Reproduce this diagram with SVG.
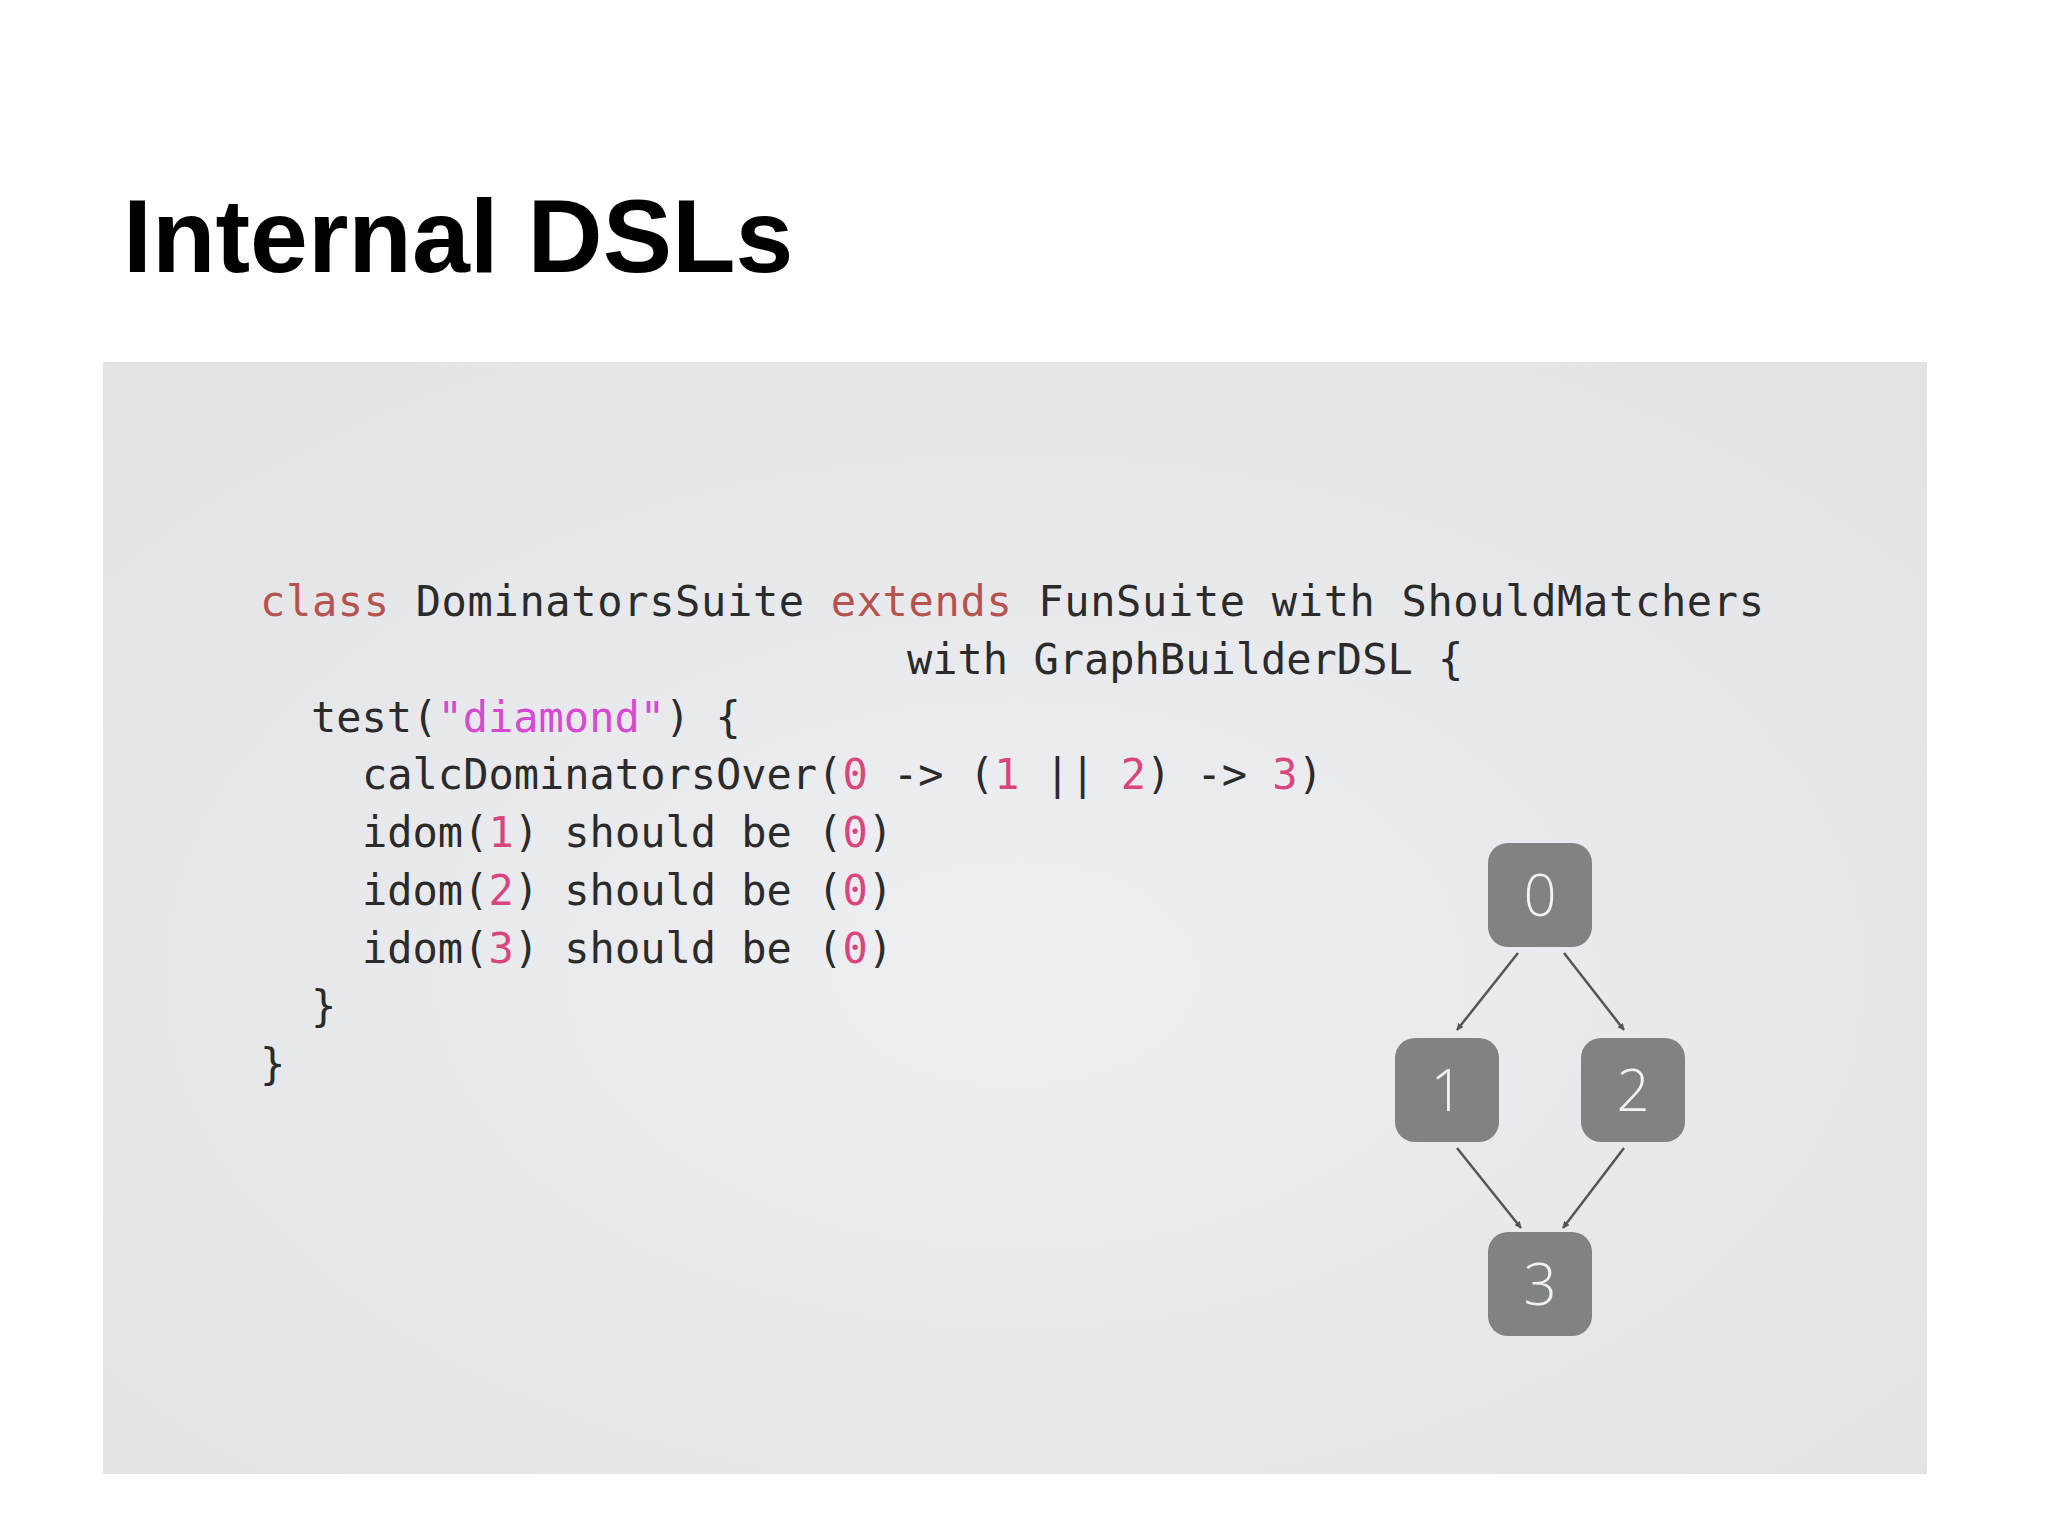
<svg xmlns="http://www.w3.org/2000/svg" width="2048" height="1536" viewBox="0 0 2048 1536">
<defs>
<radialGradient id="bg" cx="0.5" cy="0.55" r="0.7">
<stop offset="0" stop-color="#eeeff2"/><stop offset="1" stop-color="#e2e3e7"/>
</radialGradient>
<marker id="ah" viewBox="0 0 10 10" refX="9" refY="5" markerWidth="7" markerHeight="7" orient="auto" markerUnits="userSpaceOnUse">
<path d="M0,0 L10,5 L0,10 z" fill="#555"/>
</marker>
<style>
.code{font-family:"DejaVu Sans Mono","Liberation Mono",monospace;font-size:42px;fill:#2b2b2b}
.kw{fill:#b5544f}.str{fill:#d54ad0}.num{fill:#d9457d}
.node rect{fill:#7f8482}
.node text{font-family:"Open Sans","DejaVu Sans",sans-serif;font-weight:300;font-size:58px;fill:#f2f2f2;text-anchor:middle}
.edge{stroke:#555;stroke-width:2.5;fill:none;marker-end:url(#ah)}
</style>
</defs>
<rect width="2048" height="1536" fill="#fff"/>
<text x="123" y="272" font-family="Liberation Sans,Arial,sans-serif" font-weight="bold" font-size="104" fill="#000">Internal DSLs</text>
<rect x="103" y="362" width="1824" height="1112" fill="url(#bg)"/>
<g id="code" class="code">
<text x="260" y="616" textLength="1504"><tspan class="kw">class</tspan> DominatorsSuite <tspan class="kw">extends</tspan> FunSuite with ShouldMatchers</text>
<text x="907" y="674">with GraphBuilderDSL {</text>
<text x="311" y="732">test(<tspan class="str">"diamond"</tspan>) {</text>
<text x="362" y="789">calcDominatorsOver(<tspan class="num">0</tspan> -&gt; (<tspan class="num">1</tspan> || <tspan class="num">2</tspan>) -&gt; <tspan class="num">3</tspan>)</text>
<text x="362" y="847">idom(<tspan class="num">1</tspan>) should be (<tspan class="num">0</tspan>)</text>
<text x="362" y="905">idom(<tspan class="num">2</tspan>) should be (<tspan class="num">0</tspan>)</text>
<text x="362" y="963">idom(<tspan class="num">3</tspan>) should be (<tspan class="num">0</tspan>)</text>
<text x="311" y="1021">}</text>
<text x="260" y="1079">}</text>
</g>
<g id="connectors">
<line class="edge" x1="1518" y1="953" x2="1457" y2="1030"/>
<line class="edge" x1="1564" y1="953" x2="1624" y2="1030"/>
<line class="edge" x1="1457" y1="1148" x2="1521" y2="1228"/>
<line class="edge" x1="1624" y1="1148" x2="1563" y2="1228"/>
</g>
<g id="n0" class="node"><rect x="1488" y="843" width="104" height="104" rx="20"/><text x="1540" y="916">0</text></g>
<g id="n1" class="node"><rect x="1395" y="1038" width="104" height="104" rx="20"/><text x="1447" y="1111">1</text></g>
<g id="n2" class="node"><rect x="1581" y="1038" width="104" height="104" rx="20"/><text x="1633" y="1111">2</text></g>
<g id="n3" class="node"><rect x="1488" y="1232" width="104" height="104" rx="20"/><text x="1540" y="1305">3</text></g>
</svg>
